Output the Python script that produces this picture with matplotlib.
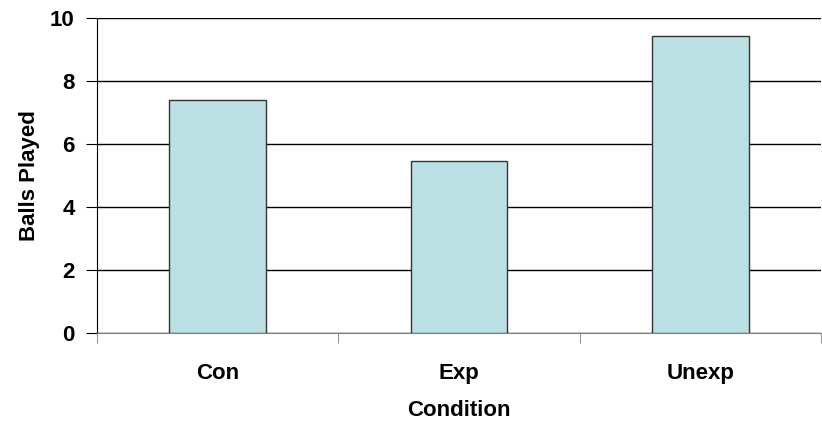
import matplotlib.pyplot as plt
import numpy as np

plt.rcParams['font.family'] = ['Liberation Sans', 'DejaVu Sans']
plt.rcParams['font.weight'] = 'bold'

conditions = ['Con', 'Exp', 'Unexp']
balls_played = [7.39, 5.46, 9.42]

fig = plt.figure(figsize=(8.22, 4.22), dpi=100)
ax = fig.add_axes([0.118, 0.2116, 0.881, 0.7465])

x = np.arange(len(conditions))
ax.bar(x, balls_played, width=0.4, color='#bbe0e3', edgecolor='#333333', linewidth=1, zorder=3)

ax.set_xlim(-0.5, 2.5)
ax.set_ylim(0, 10)
ax.set_yticks(np.arange(0, 11, 2))
ax.yaxis.grid(True, color='black', linewidth=1, zorder=0)

fs = 16
ax.set_xticks(x)
ax.set_xticklabels(conditions, fontsize=fs, fontweight='bold')
ax.set_xticks([-0.5, 0.5, 1.5, 2.5], minor=True)
ax.tick_params(axis='x', which='major', length=0, pad=22)
ax.tick_params(axis='x', which='minor', length=7, direction='out', color='#808080')
ax.tick_params(axis='y', length=8, direction='out', labelsize=fs, pad=8)
for lab in ax.get_yticklabels():
    lab.set_fontweight('bold')

ax.spines['right'].set_visible(False)
ax.spines['top'].set_visible(False)
ax.spines['bottom'].set_color('#808080')
ax.spines['left'].set_color('black')

ax.set_xlabel('Condition', fontsize=fs, fontweight='bold', labelpad=11)
ax.set_ylabel('Balls Played', fontsize=fs, fontweight='bold', labelpad=7)

fig.savefig('out.png', dpi=100)
